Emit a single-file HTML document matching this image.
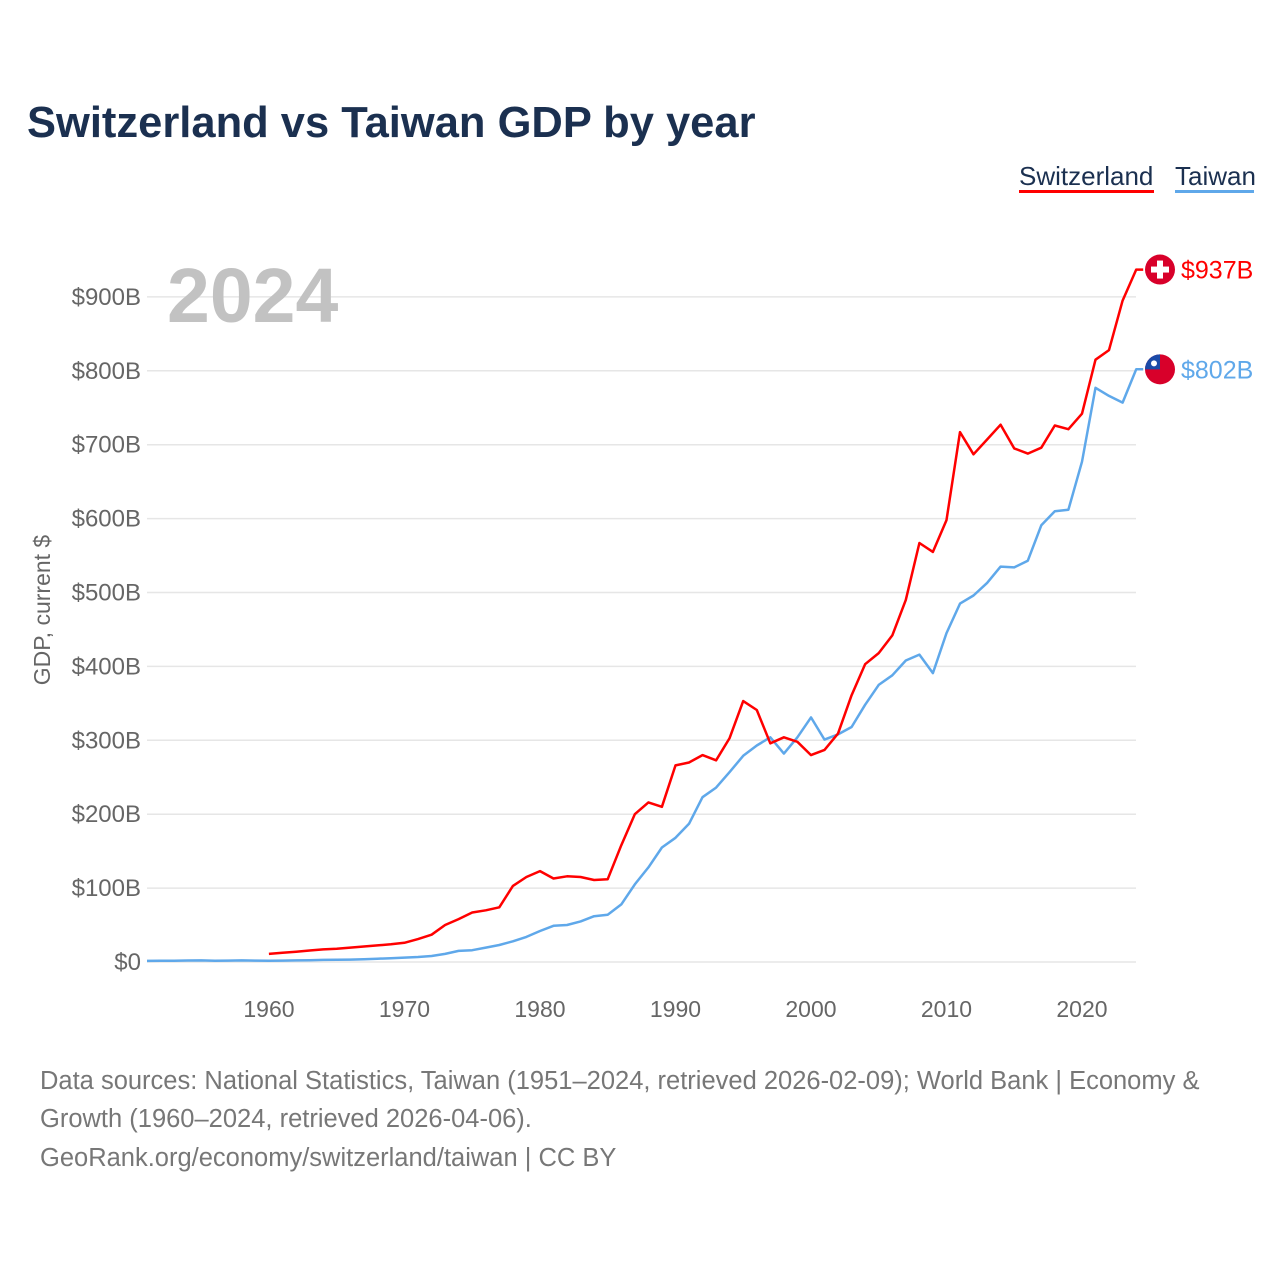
<!DOCTYPE html>
<html><head><meta charset="utf-8"><style>
body{margin:0;background:#fff;font-family:"Liberation Sans",sans-serif;}
svg text{font-family:"Liberation Sans",sans-serif;}
</style></head><body>
<svg width="1280" height="1280" xmlns="http://www.w3.org/2000/svg">
<text x="27" y="137" font-size="43.5" font-weight="bold" fill="#1b3050">Switzerland vs Taiwan GDP by year</text>
<g>
<text x="1019" y="185" font-size="26" fill="#1b3050">Switzerland</text>
<rect x="1019" y="190" width="135" height="3" fill="#ff0000"/>
<text x="1175" y="185" font-size="26" fill="#1b3050">Taiwan</text>
<rect x="1175" y="190" width="79" height="3" fill="#5fa8ea"/>
</g>
<g id="grid"></g>
<text x="167" y="322" font-size="77" font-weight="bold" fill="#c2c2c2">2024</text>
<text transform="translate(50,610) rotate(-90)" text-anchor="middle" font-size="23" fill="#666">GDP, current $</text>
<g id="lines"></g>
<g id="ends"></g>
<g font-size="25.5" fill="#777">
<text x="40" y="1089" fill="#777">Data sources: National Statistics, Taiwan (1951–2024, retrieved 2026-02-09); World Bank | Economy &amp;</text>
<text x="40" y="1127" fill="#777">Growth (1960–2024, retrieved 2026-04-06).</text>
<text x="40" y="1166" fill="#777">GeoRank.org/economy/switzerland/taiwan | CC BY</text>
</g>
</svg>
<script>
const yTicks=[0,100,200,300,400,500,600,700,800,900];
const yTickLabels=["$0","$100B","$200B","$300B","$400B","$500B","$600B","$700B","$800B","$900B"];
const xTicks=[1960,1970,1980,1990,2000,2010,2020];
const chStart=1960;
const chValues=[11,12.5,14,15.5,17,18,19.5,21,22.5,24,26,31,37,50,58,67,70,74,103,115,123,113,116,115,111,112,158,200,216,210,266,270,280,273,303,353,341,296,304,298,280,287,309,361,403,418,442,490,567,555,598,717,687,707,727,695,688,696,726,721,742,815,828,895,937];
const twStart=1951;
const twValues=[1.5,1.7,1.8,2,2.1,1.6,1.9,2.1,1.9,1.8,1.9,2.1,2.4,2.8,3,3.3,3.8,4.4,5.1,5.9,6.8,8.1,11,15,16,19.5,23,28,34,42,49,50,55,62,64,78,105,128,155,168,187,223,236,257,279,293,304,282,304,331,301,308,318,348,375,388,408,416,391,445,485,496,513,535,534,543,591,610,612,677,777,766,757,802];
const NS="http://www.w3.org/2000/svg";
const X=yr=>147+(yr-1951)*(1082-269)/60;
const Y=v=>962-v*0.739;
function mk(t,a,p){const e=document.createElementNS(NS,t);for(const k in a)e.setAttribute(k,a[k]);p.appendChild(e);return e;}
const grid=document.getElementById('grid');
yTicks.forEach((v,i)=>{
 const l=mk('line',{x1:147,x2:1136,y1:Y(v),y2:Y(v),stroke:'#e6e6e6','stroke-width':1.5},grid);
 
 
 const t=mk('text',{x:141,y:Y(v)+8,'text-anchor':'end','font-size':24,fill:'#666'},grid);
 t.textContent=yTickLabels[i];
 
 
});
xTicks.forEach(yr=>{
 const t=mk('text',{x:X(yr),y:1017,'text-anchor':'middle','font-size':23,fill:'#666'},grid);
 t.textContent=yr;
 
 
});
const lines=document.getElementById('lines');
function series(start,vals,color,name){
 const pts=vals.map((v,i)=>X(start+i).toFixed(1)+','+Y(v).toFixed(1));
 const lv=vals[vals.length-1];
 pts.push((X(start+vals.length-1)+7).toFixed(1)+','+Y(lv).toFixed(1));
 const p=mk('polyline',{points:pts.join(' '),fill:'none',stroke:color,'stroke-width':2.5,'stroke-linejoin':'round'},lines);
 
 
}
series(twStart,twValues,'#5fa8ea','taiwan-line');
series(chStart,chValues,'#ff0000','switzerland-line');
const ends=document.getElementById('ends');
const chV=chValues[chValues.length-1], twV=twValues[twValues.length-1];
let cy=Y(chV);
let c=mk('circle',{cx:1160,cy:cy,r:15,fill:'#d8002a'},ends);


mk('rect',{x:1157,y:cy-9,width:6,height:18,fill:'#fff'},ends);
mk('rect',{x:1151,y:cy-3,width:18,height:6,fill:'#fff'},ends);
let t=mk('text',{x:1181,y:cy+9,'font-size':25,fill:'#ff0000'},ends);
t.textContent='$'+Math.round(chV)+'B';


cy=Y(twV);
c=mk('circle',{cx:1160,cy:cy,r:15,fill:'#d8002a'},ends);


mk('path',{d:`M1145 ${cy} A15 15 0 0 1 1160 ${cy-15} L1160 ${cy} Z`,fill:'#1a4aa8'},ends);
mk('circle',{cx:1154,cy:cy-6,r:3,fill:'#fff'},ends);
t=mk('text',{x:1181,y:cy+9,'font-size':25,fill:'#5fa8ea'},ends);
t.textContent='$'+Math.round(twV)+'B';


</script>
</body></html>
